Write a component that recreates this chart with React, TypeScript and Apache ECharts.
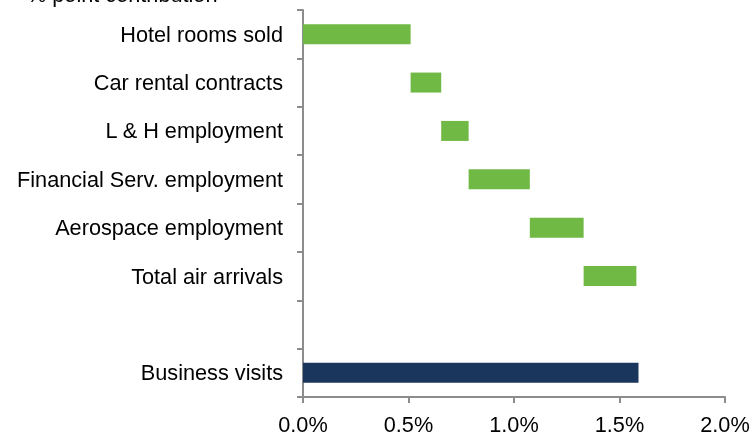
import React, { useEffect, useRef } from "react";
import * as echarts from "echarts";

const categories = [
  "Hotel rooms sold",
  "Car rental contracts",
  "L & H employment",
  "Financial Serv. employment",
  "Aerospace employment",
  "Total air arrivals",
  "",
  "Business visits",
];
// % point contributions (waterfall steps)
const contributions = [0.51, 0.145, 0.13, 0.29, 0.255, 0.25];
const totalBusinessVisits = 1.59;
const xTicks = [0, 0.5, 1.0, 1.5, 2.0];
const titleText = "% point contribution";

const FONT = "'Liberation Sans', Arial, sans-serif";
const FS = 21.7;

export default function App() {
  const ref = useRef<HTMLDivElement>(null);
  useEffect(() => {
    if (!ref.current) return;
    const chart = echarts.init(ref.current, null, { renderer: "svg" });
    const base: (number | string)[] = [];
    const steps: (number | string)[] = [];
    let cum = 0;
    contributions.forEach((c) => {
      base.push(cum);
      steps.push(c);
      cum += c;
    });
    base.push("-");
    steps.push("-");
    base.push("-");
    steps.push("-");
    const totals: (number | string)[] = categories.map((_, i) =>
      i === categories.length - 1 ? totalBusinessVisits : "-"
    );
    chart.setOption({
      animation: false,
      textStyle: { fontFamily: FONT },
      grid: { left: 303, right: 28, top: 10, bottom: 36, containLabel: false },
      graphic: [
        {
          type: "text",
          x: 27,
          y: -5.5,
          style: {
            text: titleText,
            font: `${FS}px ${FONT}`,
            fill: "#000",
            verticalAlign: "middle",
            textVerticalAlign: "middle",
          },
        },
      ],
      xAxis: {
        type: "value",
        min: xTicks[0],
        max: xTicks[xTicks.length - 1],
        interval: 0.5,
        splitLine: { show: false },
        axisLine: { show: true, lineStyle: { color: "#8c8c8c", width: 2 } },
        axisTick: { show: true, length: 6, lineStyle: { color: "#8c8c8c", width: 2 } },
        axisLabel: {
          color: "#000",
          fontSize: FS,
          fontFamily: FONT,
          margin: 16,
          formatter: (v: number) => v.toFixed(1) + "%",
        },
      },
      yAxis: {
        type: "category",
        data: categories,
        inverse: true,
        axisLine: { show: true, lineStyle: { color: "#8c8c8c", width: 2 } },
        axisTick: { show: true, length: 6, lineStyle: { color: "#8c8c8c", width: 2 } },
        axisLabel: { color: "#000", fontSize: FS, fontFamily: FONT, margin: 20 },
      },
      series: [
        {
          type: "bar",
          stack: "w",
          data: base,
          barWidth: 20,
          itemStyle: { color: "transparent" },
          silent: true,
        },
        {
          type: "bar",
          stack: "w",
          data: steps,
          barWidth: 20,
          itemStyle: { color: "#6FB944" },
        },
        {
          type: "bar",
          stack: "w",
          data: totals,
          barWidth: 20,
          itemStyle: { color: "#1B365D" },
        },
      ],
    });
    return () => chart.dispose();
  }, []);
  return (
    <div
      ref={ref}
      style={{ width: 753, height: 435, position: "fixed", left: 0, top: 0 }}
    />
  );
}
